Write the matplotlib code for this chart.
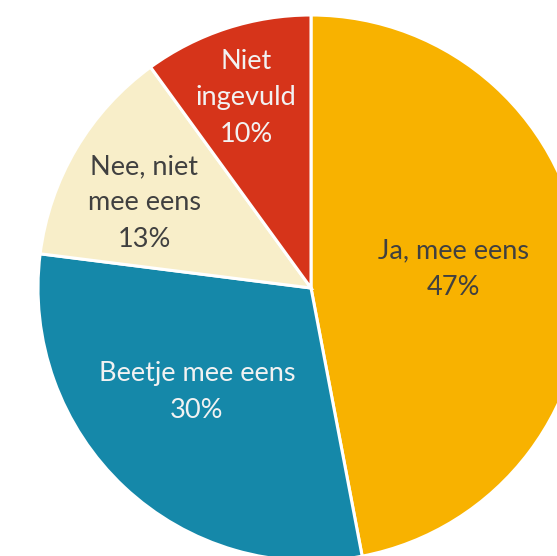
import matplotlib
matplotlib.use("Agg")
import matplotlib.pyplot as plt

categories = ["Ja, mee eens", "Beetje mee eens", "Nee, niet\nmee eens", "Niet\ningevuld"]
values = [47, 30, 13, 10]
pct_labels = ["47%", "30%", "13%", "10%"]
colors = ["#F8B200", "#1588A9", "#F8EEC9", "#D6341A"]
text_colors = ["#404040", "#F2F2F2", "#404040", "#F2F2F2"]

W, H = 557, 556
fig = plt.figure(figsize=(W / 100, H / 100), dpi=100)
ax = fig.add_axes([0, 0, 1, 1])

cx, cy, R = 311, H - 288, 273
ax.pie(values, colors=colors, startangle=90, counterclock=False,
       center=(cx, cy), radius=R, frame=True,
       wedgeprops=dict(edgecolor="white", linewidth=2.2))
ax.set_xlim(0, W)
ax.set_ylim(0, H)
ax.set_aspect("equal")
ax.axis("off")

label_pos = [(453, H - 269), (197, H - 392), (144, H - 203), (246, H - 98)]
for (x, y), cat, p, tc in zip(label_pos, categories, pct_labels, text_colors):
    ax.text(x, y, cat + "\n" + p, ha="center", va="center", color=tc,
            fontsize=19.5, family="Lato", linespacing=1.56)

fig.savefig("out.png", dpi=100)
